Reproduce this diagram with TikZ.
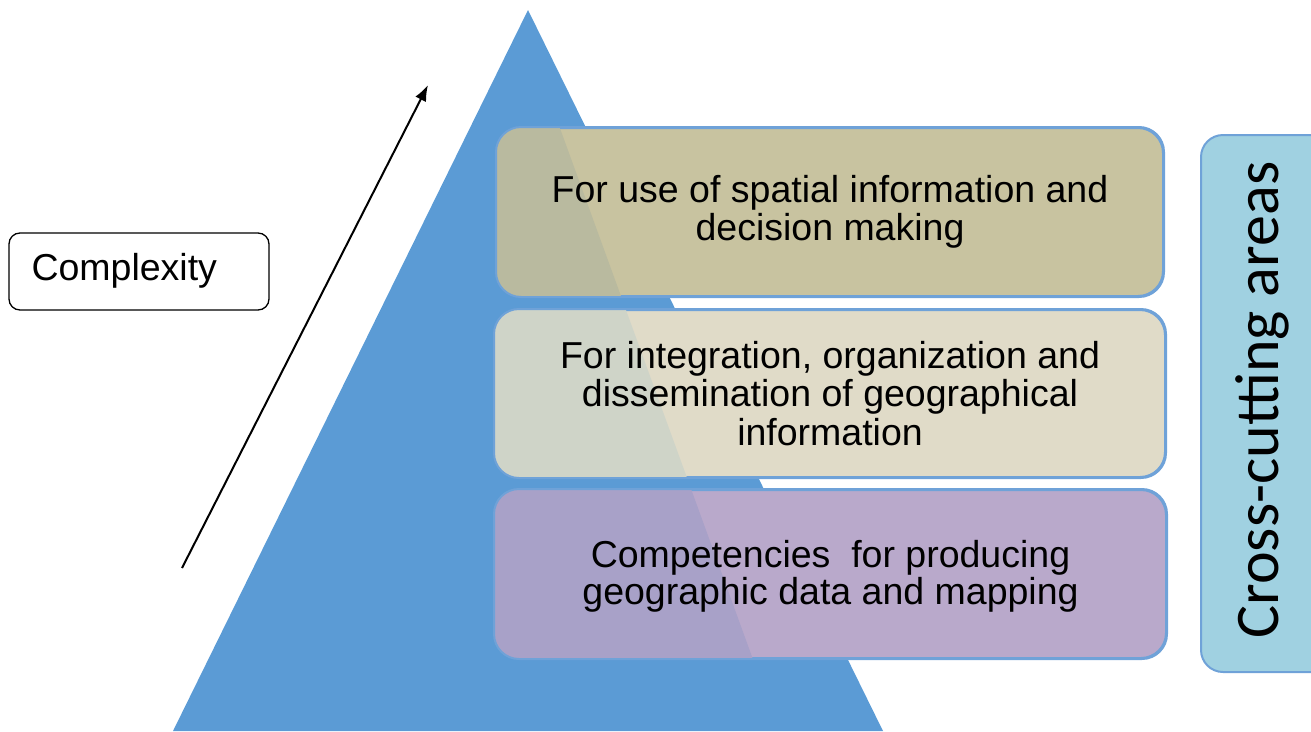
\documentclass[tikz,border=0pt]{standalone}
\usepackage{fontspec}
\setmainfont{Liberation Sans}
\newfontfamily\calib{Carlito}
\usetikzlibrary{arrows.meta}
\definecolor{triblue}{HTML}{5B9BD5}
\definecolor{boxline}{HTML}{6FA2D8}
\definecolor{aR}{HTML}{C8C3A0}
\definecolor{aL}{HTML}{B9BA9F}
\definecolor{bR}{HTML}{E0DBC8}
\definecolor{bL}{HTML}{CFD4C8}
\definecolor{cR}{HTML}{B9A9CB}
\definecolor{cL}{HTML}{A8A1C8}
\definecolor{crossfill}{HTML}{A0D1E1}
\tikzset{
  levelbox/.style={draw=boxline, line width=2pt, rounded corners=25pt, align=center, inner sep=0pt},
  leveltext/.style={align=center, font=\fontsize{37.5}{38.5}\selectfont},
  crossbox/.style={draw=boxline, line width=2pt, fill=crossfill, rounded corners=22pt, inner sep=0pt},
  labelbox/.style={draw=black, line width=1.3pt, rounded corners=11pt, fill=white, inner sep=0pt},
}
\begin{document}
\begin{tikzpicture}[x=1pt,y=-1pt]
\useasboundingbox (0,0) rectangle (1311,731);
\clip (0,0) rectangle (1311,731);
% pyramid
\fill[triblue] (528,10) -- (883,731) -- (173,731) -- cycle;
% level boxes
\node[levelbox, fill=aR, minimum width=666pt, minimum height=168pt] (top) at (830,212) {};
\node[levelbox, fill=bR, minimum width=670pt, minimum height=167pt] (mid) at (830,393.5) {};
\node[levelbox, fill=cR, minimum width=671pt, minimum height=168pt] (bot) at (830.5,574) {};
% darker left parts (pyramid seen through)
\foreach \b/\c in {top/aL, mid/bL, bot/cL}{
  \begin{scope}
    \clip[rounded corners=25pt] (\b.south west) rectangle (\b.north east);
    \fill[\c] (0,0) -- (517,10) -- (779,731) -- (0,731) -- cycle;
  \end{scope}
  \draw[boxline, line width=2pt, rounded corners=25pt] (\b.south west) rectangle (\b.north east);
}
\node[leveltext] (toptext) at (top.center) {For use of spatial information and\\decision making};
\node[leveltext] (midtext) at (mid.center) {For integration, organization and\\dissemination of geographical\\information};
\node[leveltext, font=\fontsize{37.5}{37}\selectfont] (bottext) at ([yshift=-2pt]bot.center) {Competencies~ for producing\\geographic data and mapping};
% cross-cutting
\node[crossbox, minimum width=537pt, minimum height=140pt, rotate=90] (cross) at (1271,403.5) {};
\node[rotate=90, font=\calib\fontsize{62}{62}\selectfont, text=black] (crosstext) at (1262,400) {Cross-cutting areas};
% complexity
\node[labelbox, minimum width=260pt, minimum height=77pt] (cx) at (139,271.5) {};
\node[font=\fontsize{37.5}{38}\selectfont, anchor=west] (cxtext) at (28,271) {Complexity};
% arrow
\coordinate (arrS) at (182,568);
\coordinate (arrE) at (428,85);
\draw[line width=2pt, -{Latex[length=16pt,width=12pt]}] (arrS) -- (arrE);
\end{tikzpicture}
\end{document}
